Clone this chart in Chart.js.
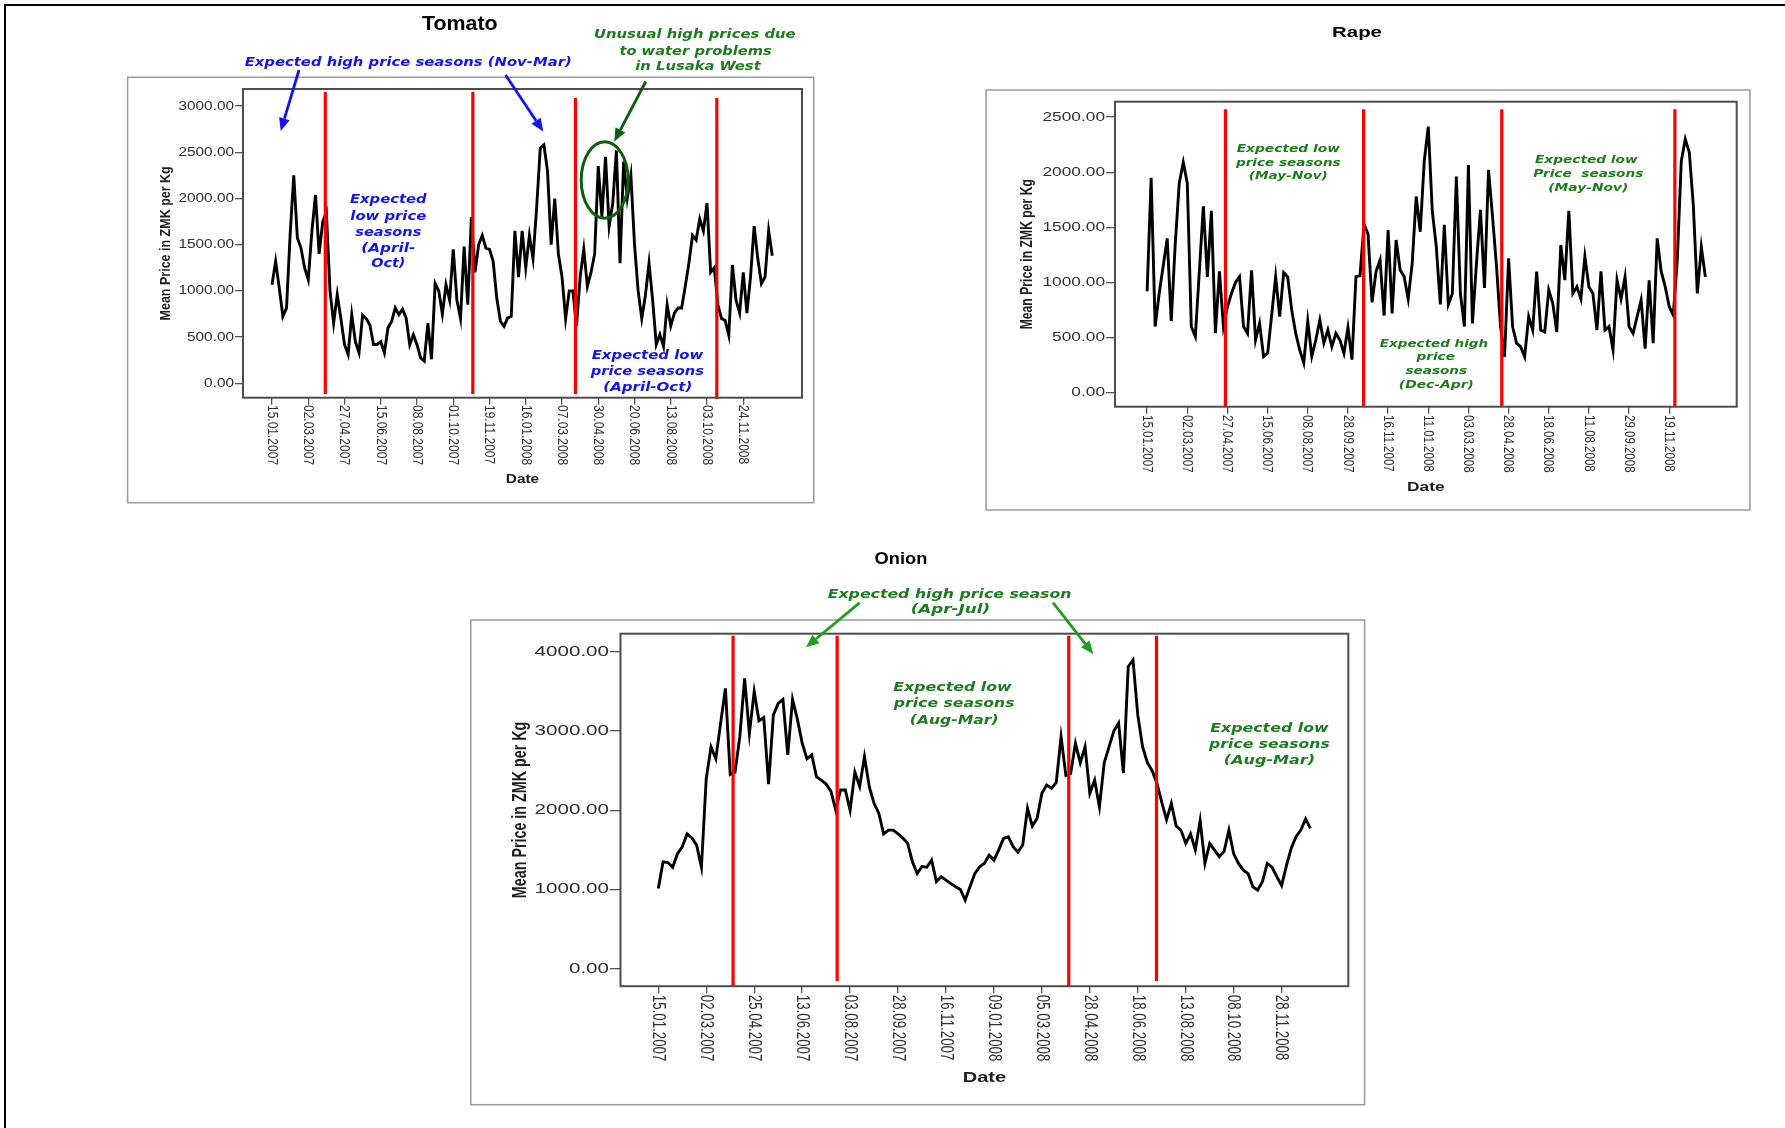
<!DOCTYPE html>
<html>
<head>
<meta charset="utf-8">
<title>Seasonal vegetable prices, Lusaka 2007-2008</title>
<script src="https://cdn.jsdelivr.net/npm/chart.js@4.4.1/dist/chart.umd.min.js"></script>
<style>
  html, body { margin: 0; padding: 0; background: #fff; }
  #page { position: relative; width: 1785px; height: 1128px; overflow: hidden; background: #fff; }
  #page canvas { position: absolute; }
  .rule-top { position: absolute; left: 4px; top: 4px; width: 1781px; height: 2px; background: #000; }
  .rule-left { position: absolute; left: 4px; top: 4px; width: 2px; height: 1124px; background: #000; }
</style>
</head>
<body>
<div id="page">
  <div class="rule-top"></div>
  <div class="rule-left"></div>
  <canvas id="tomato" width="720" height="500" style="left:110px;top:8px"></canvas>
  <canvas id="rape" width="790" height="510" style="left:980px;top:8px"></canvas>
  <canvas id="onion" width="920" height="575" style="left:460px;top:540px"></canvas>
</div>
<script>
// ---- observations: mean price (ZMK per kg), OBS_PER_LABEL observations between date labels ----
const OBS_PER_LABEL = 10;

const tomatoDates = ['15.01.2007','02.03.2007','27.04.2007','15.06.2007','08.08.2007','01.10.2007','19.11.2007',
  '16.01.2008','07.03.2008','30.04.2008','20.06.2008','13.08.2008','03.10.2008','24.11.2008'];
const tomatoPrices = [
  1067,1320,1031,725,814,1608,2250,1572,1464,1248,
  1120,1644,2040,1400,1750,1850,1000,650,960,700,
  420,310,743,450,330,740,700,630,420,420,
  450,330,600,670,815,743,800,707,418,526,
  418,274,240,650,260,1080,1000,750,1067,900,
  1450,900,700,1480,850,1800,1200,1500,1600,1464,
  1450,1320,922,671,617,707,725,1650,1150,1650,
  1250,1600,1350,1900,2546,2580,2300,1500,2000,1400,
  1150,700,1000,1000,620,1150,1450,1050,1200,1400,
  2350,1800,2450,1700,1950,2520,1300,2400,2000,2250,
  1500,1000,700,950,1300,900,420,530,400,850,
  620,760,815,815,1050,1300,1600,1550,1780,1650,
  1950,1200,1250,850,700,680,520,1280,900,760,
  1200,760,1150,1700,1350,1080,1150,1650,1380];
const tomatoTicks = [0, 500, 1000, 1500, 2000, 2500, 3000];
const tomatoSeasonBreaks = [14.7, 55.4, 83.7, 122.7];

const rapeDates = ['15.01.2007','02.03.2007','27.04.2007','15.06.2007','08.08.2007','28.09.2007','16.11.2007',
  '11.01.2008','03.03.2008','28.04.2008','18.06.2008','11.08.2008','29.09.2008','19.11.2008'];
const rapePrices = [
  920,1950,600,900,1150,1400,650,1350,1900,2090,
  1900,600,510,1100,1690,1050,1650,540,1100,600,
  780,900,1000,1053,600,538,1110,478,629,327,
  357,700,1053,690,1090,1050,750,538,387,270,
  650,330,478,659,450,569,417,538,478,357,
  590,300,1053,1060,1530,1440,820,1100,1204,700,
  1476,720,1385,1113,1053,850,1174,1780,1460,2100,
  2414,1650,1325,800,1522,800,900,1960,900,600,
  2066,629,1174,1658,950,2021,1600,1143,599,326,
  1219,600,447,417,326,690,569,1098,569,550,
  932,811,550,1340,1022,1650,901,962,850,1234,
  960,900,569,1100,569,600,390,1022,850,1050,
  600,538,690,840,400,1020,450,1400,1100,962,
  780,705,1200,2100,2300,2180,1700,900,1320,1050];
const rapeTicks = [0, 500, 1000, 1500, 2000, 2500];
const rapeSeasonBreaks = [19.5, 53.9, 88.3, 131.4];

const onionDates = ['15.01.2007','02.03.2007','25.04.2007','13.06.2007','03.08.2007','28.09.2007','16.11.2007',
  '09.01.2008','05.03.2008','28.04.2008','18.06.2008','13.08.2008','08.10.2008','28.11.2008'];
const onionPrices = [
  1012,1349,1340,1280,1450,1539,1700,1650,1560,1280,
  2400,2800,2650,3100,3539,2450,2480,2928,3665,2970,
  3500,3130,3170,2330,3200,3349,3400,2700,3400,3150,
  2850,2650,2700,2420,2381,2330,2240,2002,2255,2255,
  2002,2480,2300,2676,2297,2087,1960,1700,1749,1749,
  1700,1650,1581,1350,1202,1290,1280,1370,1100,1160,
  1118,1075,1033,1000,865,1033,1200,1286,1328,1434,
  1370,1500,1644,1665,1539,1470,1560,2024,1800,1897,
  2213,2318,2276,2350,2928,2440,2465,2844,2600,2800,
  2213,2380,2044,2600,2800,3000,3100,2470,3812,3897,
  3200,2800,2600,2500,2339,2100,1880,2087,1800,1749,
  1581,1700,1500,1870,1328,1581,1497,1413,1480,1749,
  1450,1328,1244,1200,1033,991,1100,1328,1280,1160,
  1050,1300,1520,1665,1749,1890,1770];
const onionTicks = [0, 1000, 2000, 3000, 4000];
const onionSeasonBreaks = [15.6, 37.3, 85.6, 103.9];

// ---- colours ----
const BLUE = '#1212f2';
const DARK_GREEN = '#0c5f0c';
const TEXT_GREEN = '#1b7d1b';
const BRIGHT_GREEN = '#1e9e1e';

// ---- drawing helpers (page coordinates) ----
function putText(ctx, text, x, y, o) {
  ctx.save();
  ctx.font = o.font;
  ctx.fillStyle = o.color;
  ctx.textAlign = o.align || 'center';
  ctx.textBaseline = o.baseline || 'middle';
  let sx = o.sx || 1;
  if (o.w) sx = o.w / ctx.measureText(text).width;
  ctx.translate(x, y);
  ctx.scale(sx, 1);
  if (o.rot) ctx.rotate(o.rot);
  ctx.fillText(text, 0, 0);
  ctx.restore();
}

function arrow(ctx, a) {
  const ang = Math.atan2(a.y2 - a.y1, a.x2 - a.x1);
  const head = a.head || 13, half = a.half || 5.5;
  const bx = a.x2 - head * Math.cos(ang), by = a.y2 - head * Math.sin(ang);
  ctx.save();
  ctx.strokeStyle = a.c; ctx.fillStyle = a.c; ctx.lineWidth = a.lw || 2.8; ctx.lineCap = 'butt';
  ctx.beginPath(); ctx.moveTo(a.x1, a.y1); ctx.lineTo(bx, by); ctx.stroke();
  const nx = -Math.sin(ang), ny = Math.cos(ang);
  ctx.beginPath();
  ctx.moveTo(a.x2, a.y2);
  ctx.lineTo(bx + half * nx, by + half * ny);
  ctx.lineTo(bx - half * nx, by - half * ny);
  ctx.closePath(); ctx.fill();
  ctx.restore();
}

const NOTE_FONT = s => `italic bold ${s}px 'DejaVu Sans', Verdana, sans-serif`;

// ---- panels ----
const panels = [
  {
    id: 'tomato', left: 110, top: 8, width: 720, height: 500,
    plot: { l: 243, t: 89, r: 802, b: 397.7 },
    frame: { l: 127.6, t: 77.3, r: 813.7, b: 502.7 },
    prices: tomatoPrices, dates: tomatoDates, yTicks: tomatoTicks,
    xMin: -8, xMax: 146.2, yMin: -156, yMax: 3185,
    breaks: tomatoSeasonBreaks, breakTop: [3153, 3153, 3088, 3088], breakBottom: [-116, -116, -116, -170],
    title: { text: 'Tomato', x: 459.8, y: 24, size: 20, w: 75.7 },
    tick: { size: 12.5, sx: 1.23, len: 8 }, xLab: { size: 12, sx: 1.23, gap: 7.3 },
    yTitle: { x: 165.4, size: 12.5, sx: 1.23 }, xTitle: { y: 479.3, size: 12.5, sx: 1.23 },
    notes: {
      texts: [
        { t: 'Expected high price seasons (Nov-Mar)', x: 408.2, y: 63.3, w: 327, c: BLUE, s: 12 },
        { t: 'Unusual high prices due', x: 694.8, y: 35.3, w: 201.7, c: TEXT_GREEN, s: 11.5 },
        { t: 'to water problems', x: 695.6, y: 51.7, w: 152.4, c: TEXT_GREEN, s: 11.5 },
        { t: 'in Lusaka West', x: 698, y: 67.3, w: 125.4, c: TEXT_GREEN, s: 11.5 },
        { t: 'Expected', x: 388.3, y: 200, w: 76.7, c: BLUE, s: 12 },
        { t: 'low price', x: 388.3, y: 216.7, w: 76, c: BLUE, s: 12 },
        { t: 'seasons', x: 388.3, y: 232.7, w: 66, c: BLUE, s: 12 },
        { t: '(April-', x: 388.3, y: 249, w: 54, c: BLUE, s: 12 },
        { t: 'Oct)', x: 388.3, y: 264.3, w: 34.3, c: BLUE, s: 12 },
        { t: 'Expected low', x: 647.5, y: 355.7, w: 111.7, c: BLUE, s: 12 },
        { t: 'price seasons', x: 647.3, y: 371.7, w: 113.3, c: BLUE, s: 12 },
        { t: '(April-Oct)', x: 647.8, y: 387.7, w: 89, c: BLUE, s: 12 }
      ],
      arrows: [
        { x1: 299, y1: 70, x2: 280.7, y2: 131, c: BLUE },
        { x1: 505.6, y1: 75, x2: 543.3, y2: 131.5, c: BLUE },
        { x1: 645.8, y1: 81.5, x2: 614.3, y2: 141.5, c: DARK_GREEN }
      ],
      ellipses: [ { x: 604.7, y: 180, rx: 23.5, ry: 38.3, c: DARK_GREEN } ]
    }
  },
  {
    id: 'rape', left: 980, top: 8, width: 790, height: 510,
    plot: { l: 1115, t: 101.7, r: 1736.7, b: 406.7 },
    frame: { l: 986, t: 90, r: 1750, b: 510 },
    prices: rapePrices, dates: rapeDates, yTicks: rapeTicks,
    xMin: -8, xMax: 146.8, yMin: -127, yMax: 2640,
    breaks: rapeSeasonBreaks, breakTop: [2572, 2572, 2572, 2572], breakBottom: [-127, -127, -127, -127],
    title: { text: 'Rape', x: 1357, y: 32.7, size: 14.5, w: 49.8 },
    tick: { size: 13, sx: 1.33, len: 9 }, xLab: { size: 11.5, sx: 1.35, gap: 8.3 },
    yTitle: { x: 1027.5, size: 12.2, sx: 1.35 }, xTitle: { y: 487.3, size: 12.2, sx: 1.42 },
    notes: {
      texts: [
        { t: 'Expected low', x: 1288.3, y: 149.3, w: 103.3, c: TEXT_GREEN, s: 10 },
        { t: 'price seasons', x: 1288.3, y: 163.3, w: 104.7, c: TEXT_GREEN, s: 10 },
        { t: '(May-Nov)', x: 1288.3, y: 176.7, w: 79, c: TEXT_GREEN, s: 10 },
        { t: 'Expected low', x: 1586.3, y: 160, w: 102.7, c: TEXT_GREEN, s: 10 },
        { t: 'Price  seasons', x: 1588.3, y: 174.3, w: 110, c: TEXT_GREEN, s: 10 },
        { t: '(May-Nov)', x: 1588.3, y: 188.3, w: 80, c: TEXT_GREEN, s: 10 },
        { t: 'Expected high', x: 1434, y: 344, w: 108.3, c: TEXT_GREEN, s: 10 },
        { t: 'price', x: 1435.7, y: 357.7, w: 38.5, c: TEXT_GREEN, s: 10 },
        { t: 'seasons', x: 1436.3, y: 371, w: 61.6, c: TEXT_GREEN, s: 10 },
        { t: '(Dec-Apr)', x: 1436.3, y: 385, w: 75, c: TEXT_GREEN, s: 10 }
      ],
      arrows: [],
      ellipses: []
    }
  },
  {
    id: 'onion', left: 460, top: 540, width: 920, height: 575,
    plot: { l: 620.5, t: 633.7, r: 1348.3, b: 986.2 },
    frame: { l: 470.8, t: 620, r: 1364.6, b: 1104.7 },
    prices: onionPrices, dates: onionDates, yTicks: onionTicks,
    xMin: -7.88, xMax: 143.9, yMin: -222, yMax: 4229,
    breaks: onionSeasonBreaks, breakTop: [4204, 4204, 4204, 4204], breakBottom: [-232, -157, -232, -157],
    title: { text: 'Onion', x: 901, y: 559.3, size: 17, w: 52.8 },
    tick: { size: 14.5, sx: 1.42, len: 10.5 }, xLab: { size: 13.3, sx: 1.42, gap: 8.6 },
    yTitle: { x: 520, size: 14.3, sx: 1.4 }, xTitle: { y: 1078.4, size: 14.3, sx: 1.4 },
    notes: {
      texts: [
        { t: 'Expected high price season', x: 949.6, y: 594.4, w: 243.8, c: TEXT_GREEN, s: 12.5 },
        { t: '(Apr-Jul)', x: 950.4, y: 610, w: 79.5, c: TEXT_GREEN, s: 12.5 },
        { t: 'Expected low', x: 952.5, y: 688.1, w: 118.4, c: TEXT_GREEN, s: 12.5 },
        { t: 'price seasons', x: 954.2, y: 704.2, w: 120.7, c: TEXT_GREEN, s: 12.5 },
        { t: '(Aug-Mar)', x: 954.2, y: 720.4, w: 88.8, c: TEXT_GREEN, s: 12.5 },
        { t: 'Expected low', x: 1269.4, y: 728.6, w: 118.4, c: TEXT_GREEN, s: 12.5 },
        { t: 'price seasons', x: 1269.4, y: 744.7, w: 120.7, c: TEXT_GREEN, s: 12.5 },
        { t: '(Aug-Mar)', x: 1269.4, y: 760.5, w: 91.1, c: TEXT_GREEN, s: 12.5 }
      ],
      arrows: [
        { x1: 859.7, y1: 602.6, x2: 806, y2: 647.3, c: BRIGHT_GREEN },
        { x1: 1053, y1: 602.6, x2: 1093.3, y2: 654, c: BRIGHT_GREEN }
      ],
      ellipses: []
    }
  }
];

function makePanel(p) {
  const ox = p.left, oy = p.top;
  const L = p.plot.l - ox, T = p.plot.t - oy, R = p.plot.r - ox, B = p.plot.b - oy;
  const AXIS = 10;

  const decor = {
    id: 'decor_' + p.id,
    beforeDraw(chart) {
      const ctx = chart.ctx;
      ctx.save();
      ctx.translate(-ox, -oy);
      ctx.fillStyle = '#fff';
      ctx.fillRect(p.frame.l, p.frame.t, p.frame.r - p.frame.l, p.frame.b - p.frame.t);
      ctx.strokeStyle = '#9a9a9a';
      ctx.lineWidth = 1.5;
      ctx.strokeRect(p.frame.l, p.frame.t, p.frame.r - p.frame.l, p.frame.b - p.frame.t);
      ctx.restore();
    },
    afterDatasetsDraw(chart) {
      const ctx = chart.ctx, xs = chart.scales.x, ys = chart.scales.y;
      ctx.save();
      ctx.strokeStyle = '#ff0000';
      ctx.lineWidth = 3.2;
      p.breaks.forEach((pos, k) => {
        const x = xs.getPixelForValue(pos);
        ctx.beginPath();
        ctx.moveTo(x, ys.getPixelForValue(p.breakTop[k]));
        ctx.lineTo(x, ys.getPixelForValue(p.breakBottom[k]));
        ctx.stroke();
      });
      ctx.restore();
    },
    afterDraw(chart) {
      const ctx = chart.ctx, xs = chart.scales.x, ys = chart.scales.y, ca = chart.chartArea;
      // plot box
      ctx.save();
      ctx.strokeStyle = '#4d4d4d';
      ctx.lineWidth = 2;
      ctx.strokeRect(ca.left, ca.top, ca.right - ca.left, ca.bottom - ca.top);
      ctx.restore();

      // y tick labels
      p.yTicks.forEach(v => {
        putText(ctx, v.toFixed(2), ca.left - p.tick.len - 1, ys.getPixelForValue(v),
          { font: `${p.tick.size}px 'Liberation Sans', Arial, sans-serif`, color: '#2e2e2e', align: 'right', sx: p.tick.sx });
      });
      // x tick labels, rotated clockwise
      p.dates.forEach((d, k) => {
        putText(ctx, d, xs.getPixelForValue(k * OBS_PER_LABEL), ca.bottom + p.xLab.gap,
          { font: `${p.xLab.size}px 'Liberation Sans', Arial, sans-serif`, color: '#2e2e2e', align: 'left', sx: p.xLab.sx, rot: Math.PI / 2 });
      });

      ctx.save();
      ctx.translate(-ox, -oy);
      // axis titles
      putText(ctx, 'Mean Price in ZMK per Kg', p.yTitle.x, (p.plot.t + p.plot.b) / 2,
        { font: `bold ${p.yTitle.size}px 'Liberation Sans', Arial, sans-serif`, color: '#1e1e1e', sx: p.yTitle.sx, rot: -Math.PI / 2 });
      putText(ctx, 'Date', (p.plot.l + p.plot.r) / 2, p.xTitle.y,
        { font: `bold ${p.xTitle.size}px 'Liberation Sans', Arial, sans-serif`, color: '#1e1e1e', sx: p.xTitle.sx });
      // chart title
      putText(ctx, p.title.text, p.title.x, p.title.y,
        { font: `bold ${p.title.size}px 'Liberation Sans', Arial, sans-serif`, color: '#000', w: p.title.w });
      // annotations
      p.notes.texts.forEach(n => putText(ctx, n.t, n.x, n.y, { font: NOTE_FONT(n.s), color: n.c, w: n.w }));
      p.notes.arrows.forEach(a => arrow(ctx, a));
      p.notes.ellipses.forEach(e => {
        ctx.save();
        ctx.strokeStyle = e.c; ctx.lineWidth = 3;
        ctx.beginPath(); ctx.ellipse(e.x, e.y, e.rx, e.ry, 0, 0, Math.PI * 2); ctx.stroke();
        ctx.restore();
      });
      ctx.restore();
    }
  };

  new Chart(document.getElementById(p.id), {
    type: 'line',
    data: {
      datasets: [{
        data: p.prices.map((v, i) => ({ x: i, y: v })),
        borderColor: '#000', borderWidth: 2.9, pointRadius: 0, tension: 0, fill: false
      }]
    },
    options: {
      responsive: false, animation: false, devicePixelRatio: 1, events: [],
      layout: { padding: { left: L - AXIS, top: T, right: p.width - R, bottom: p.height - B - AXIS } },
      plugins: { legend: { display: false }, tooltip: { enabled: false }, title: { display: false } },
      scales: {
        x: {
          type: 'linear', min: p.xMin, max: p.xMax,
          afterBuildTicks: s => { s.ticks = p.dates.map((d, k) => ({ value: k * OBS_PER_LABEL })); },
          afterFit: s => { s.height = AXIS; },
          ticks: { display: false },
          grid: { drawOnChartArea: false, drawTicks: true, tickLength: 7, color: '#555', lineWidth: 1.3 },
          border: { display: false }
        },
        y: {
          type: 'linear', min: p.yMin, max: p.yMax,
          afterBuildTicks: s => { s.ticks = p.yTicks.map(v => ({ value: v })); },
          afterFit: s => { s.width = AXIS; },
          ticks: { display: false },
          grid: { drawOnChartArea: false, drawTicks: true, tickLength: p.tick.len, color: '#555', lineWidth: 1.3 },
          border: { display: false }
        }
      }
    },
    plugins: [decor]
  });
}

panels.forEach(makePanel);
</script>
</body>
</html>
